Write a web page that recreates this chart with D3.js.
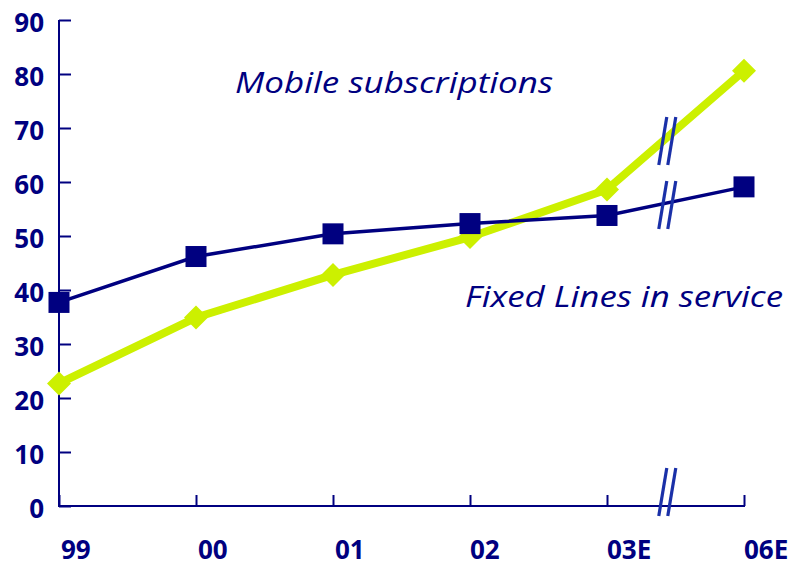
<!DOCTYPE html>
<html><head><meta charset="utf-8">
<script src="https://cdn.jsdelivr.net/npm/d3@7"></script>
<style>body{margin:0;background:#fff}svg{display:block}</style>
</head><body>
<svg id="c" width="796" height="567"></svg>
<script>
const categories = ["99","00","01","02","03E","06E"];
const fixedLines = [37.7, 46.2, 50.4, 52.3, 53.8, 59.1];
const mobileSubs = [22.7, 34.9, 42.8, 49.8, 58.6, 80.6];
const yTicks = [0,10,20,30,40,50,60,70,80,90];

const navy = "#000080", lime = "#CCF000", breakBlue = "#1A30A8";
const svg = d3.select("#c");
const x = d3.scalePoint().domain(categories).range([59, 744]);
const y = d3.scaleLinear().domain([0, 90]).range([506, 20]);

// axes
const gy = svg.append("g").attr("transform","translate(59,0)")
  .call(d3.axisRight(y).tickValues(yTicks).tickSize(12).tickFormat(""));
gy.select(".domain").remove();
gy.selectAll("line").attr("stroke", navy).attr("stroke-width", 2);
svg.append("line").attr("x1",59).attr("x2",59).attr("y1",y(90)).attr("y2",y(0)+1)
  .attr("stroke",navy).attr("stroke-width",2);

const gx = svg.append("g").attr("transform","translate(0,"+y(0)+")")
  .call(d3.axisTop(x).tickSize(11).tickFormat(""));
gx.select(".domain").remove();
gx.selectAll("line").attr("stroke", navy).attr("stroke-width", 2);
svg.append("line").attr("x1",58).attr("x2",x("06E")+1).attr("y1",y(0)).attr("y2",y(0))
  .attr("stroke",navy).attr("stroke-width",2);

// y labels
svg.append("g").selectAll("text").data(yTicks).join("text")
  .attr("x", 44).attr("y", d => y(d) + 12)
  .attr("text-anchor","end")
  .attr("font-family","'Open Sans', sans-serif").attr("font-weight",700)
  .attr("font-size",26).attr("fill",navy).text(d => d);

// x labels
svg.append("g").selectAll("text").data(categories).join("text")
  .attr("x", (d,i) => x(d) + (i < 3 ? 2 : 0)).attr("y", 559)
  .attr("text-anchor","start")
  .attr("font-family","'Open Sans', sans-serif").attr("font-weight",700)
  .attr("font-size",26).attr("fill",navy).text(d => d);

// lines
const line = d3.line().x((d,i) => x(categories[i])).y(d => y(d));
svg.append("path").datum(mobileSubs).attr("d", line).attr("fill","none")
  .attr("stroke", lime).attr("stroke-width", 8).attr("stroke-linejoin","round");
svg.append("path").datum(fixedLines).attr("d", line).attr("fill","none")
  .attr("stroke", navy).attr("stroke-width", 3.5);

// markers
svg.append("g").selectAll("path").data(mobileSubs).join("path")
  .attr("transform", (d,i) => `translate(${x(categories[i])},${y(d)})`)
  .attr("d", "M0,-12L12,0L0,12L-12,0Z").attr("fill", lime);
svg.append("g").selectAll("rect").data(fixedLines).join("rect")
  .attr("x", (d,i) => x(categories[i]) - 10.5).attr("y", d => y(d) - 10.5)
  .attr("width", 21).attr("height", 21).attr("fill", navy);

// break marks
const bx = x("03E") + (x("06E") - x("03E")) * 0.44;
function brk(cy) {
  [-4.5, 4.5].forEach(off => {
    svg.append("line")
      .attr("x1", bx + off + 4).attr("y1", cy - 24)
      .attr("x2", bx + off - 4).attr("y2", cy + 24)
      .attr("stroke", breakBlue).attr("stroke-width", 3.2);
  });
}
brk(141); brk(205); brk(492);

// annotations
svg.append("text").attr("x", 235).attr("y", 93)
  .attr("font-family","'Open Sans', sans-serif").attr("font-style","italic")
  .attr("font-size", 30).attr("fill", navy)
  .attr("textLength", 318).attr("lengthAdjust","spacingAndGlyphs")
  .text("Mobile subscriptions");
svg.append("text").attr("x", 465).attr("y", 307)
  .attr("font-family","'Open Sans', sans-serif").attr("font-style","italic")
  .attr("font-size", 30).attr("fill", navy)
  .attr("textLength", 318).attr("lengthAdjust","spacingAndGlyphs")
  .text("Fixed Lines in service");
</script>
</body></html>
